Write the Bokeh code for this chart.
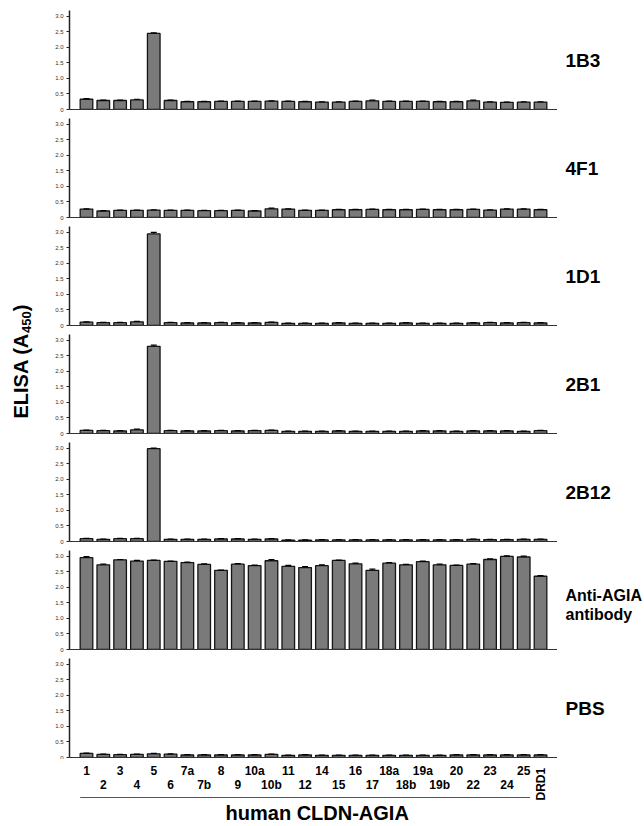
import math
from bokeh.plotting import figure
from bokeh.models import (ColumnDataSource, FixedTicker, Range1d, Whisker,
                          TeeHead, NumeralTickFormatter)
from bokeh.layouts import row, column
from bokeh.embed import file_html
from bokeh.resources import INLINE
from bokeh.core.properties import value

# ---------------- data ----------------
categories = ["1", "2", "3", "4", "5", "6", "7a", "7b", "8", "9", "10a", "10b",
              "11", "12", "14", "15", "16", "17", "18a", "18b", "19a", "19b",
              "20", "22", "23", "24", "25", "DRD1"]

panel_names = ["1B3", "4F1", "1D1", "2B1", "2B12", "Anti-AGIA\nantibody", "PBS"]

v_1B3 = [0.33, 0.29, 0.29, 0.31, 2.45, 0.29, 0.25, 0.25, 0.26, 0.26, 0.26, 0.27, 0.26, 0.25,
         0.24, 0.24, 0.26, 0.28, 0.26, 0.26, 0.26, 0.25, 0.25, 0.28, 0.24, 0.23, 0.24, 0.24]
e_1B3 = [0.02, 0.01, 0.01, 0.02, 0.02, 0.01, 0.01, 0.01, 0.01, 0.01, 0.01, 0.01, 0.01, 0.01,
         0.01, 0.01, 0.01, 0.02, 0.01, 0.01, 0.01, 0.01, 0.01, 0.02, 0.01, 0.01, 0.01, 0.01]

v_4F1 = [0.27, 0.21, 0.23, 0.23, 0.24, 0.23, 0.23, 0.22, 0.22, 0.23, 0.21, 0.28, 0.27, 0.23,
         0.23, 0.25, 0.25, 0.26, 0.25, 0.25, 0.26, 0.25, 0.25, 0.26, 0.24, 0.27, 0.27, 0.25]
e_4F1 = [0.01, 0.01, 0.01, 0.01, 0.01, 0.01, 0.01, 0.01, 0.01, 0.01, 0.01, 0.02, 0.01, 0.01,
         0.01, 0.01, 0.01, 0.01, 0.01, 0.01, 0.01, 0.01, 0.01, 0.01, 0.01, 0.01, 0.01, 0.01]

v_1D1 = [0.11, 0.09, 0.09, 0.12, 2.95, 0.09, 0.08, 0.08, 0.09, 0.08, 0.08, 0.10, 0.07, 0.07,
         0.07, 0.08, 0.07, 0.07, 0.07, 0.08, 0.07, 0.07, 0.07, 0.08, 0.09, 0.08, 0.09, 0.08]
e_1D1 = [0.01, 0.01, 0.01, 0.01, 0.05, 0.01, 0.01, 0.01, 0.01, 0.01, 0.01, 0.01, 0.01, 0.01,
         0.01, 0.01, 0.01, 0.01, 0.01, 0.01, 0.01, 0.01, 0.01, 0.01, 0.01, 0.01, 0.01, 0.01]

v_2B1 = [0.10, 0.09, 0.08, 0.12, 2.81, 0.09, 0.08, 0.08, 0.09, 0.08, 0.09, 0.10, 0.07, 0.07,
         0.07, 0.08, 0.07, 0.07, 0.07, 0.07, 0.08, 0.08, 0.07, 0.08, 0.08, 0.08, 0.07, 0.09]
e_2B1 = [0.01, 0.01, 0.01, 0.02, 0.04, 0.01, 0.01, 0.01, 0.01, 0.01, 0.01, 0.01, 0.01, 0.01,
         0.01, 0.01, 0.01, 0.01, 0.01, 0.01, 0.01, 0.01, 0.01, 0.01, 0.01, 0.01, 0.01, 0.01]

v_2B12 = [0.09, 0.07, 0.09, 0.09, 2.99, 0.07, 0.07, 0.07, 0.08, 0.08, 0.07, 0.08, 0.04, 0.04,
          0.05, 0.05, 0.05, 0.05, 0.05, 0.05, 0.05, 0.05, 0.05, 0.07, 0.06, 0.06, 0.07, 0.07]
e_2B12 = [0.01, 0.01, 0.01, 0.01, 0.02, 0.01, 0.01, 0.01, 0.01, 0.01, 0.01, 0.01, 0.01, 0.01,
          0.01, 0.01, 0.01, 0.01, 0.01, 0.01, 0.01, 0.01, 0.01, 0.01, 0.01, 0.01, 0.01, 0.01]

v_AGIA = [2.96, 2.73, 2.89, 2.85, 2.87, 2.84, 2.80, 2.74, 2.55, 2.75, 2.70, 2.86, 2.68, 2.64,
          2.70, 2.87, 2.76, 2.55, 2.78, 2.73, 2.83, 2.73, 2.71, 2.75, 2.90, 3.00, 2.98, 2.36]
e_AGIA = [0.03, 0.02, 0.01, 0.02, 0.01, 0.01, 0.02, 0.02, 0.01, 0.02, 0.02, 0.04, 0.03, 0.03,
          0.03, 0.01, 0.02, 0.04, 0.02, 0.01, 0.02, 0.02, 0.01, 0.02, 0.02, 0.02, 0.03, 0.02]

v_PBS = [0.13, 0.10, 0.09, 0.10, 0.12, 0.11, 0.08, 0.08, 0.08, 0.08, 0.08, 0.10, 0.07, 0.08,
         0.07, 0.07, 0.07, 0.07, 0.07, 0.07, 0.07, 0.07, 0.08, 0.08, 0.08, 0.08, 0.08, 0.08]
e_PBS = [0.01, 0.01, 0.01, 0.01, 0.01, 0.01, 0.01, 0.01, 0.01, 0.01, 0.01, 0.01, 0.01, 0.01,
         0.01, 0.01, 0.01, 0.01, 0.01, 0.01, 0.01, 0.01, 0.01, 0.01, 0.01, 0.01, 0.01, 0.01]

series_values = [v_1B3, v_4F1, v_1D1, v_2B1, v_2B12, v_AGIA, v_PBS]
series_errors = [e_1B3, e_4F1, e_1D1, e_2B1, e_2B12, e_AGIA, e_PBS]

y_ticks = [0, 0.5, 1.0, 1.5, 2.0, 2.5, 3.0]
y_tick_labels = ["0", "0.5", "1.0", "1.5", "2.0", "2.5", "3.0"]

y_title_main = "ELISA (A"
y_title_sub = "450"
y_title_end = ")"
x_title = "human CLDN-AGIA"

# ---------------- layout / style ----------------
FONT = "Liberation Sans"
LABEL_W = 38          # left column holding the y title
BL, FW = 31, 488      # panel left border + frame width
RIGHT_W = 87          # right column holding the panel names
FRAME_H = 99
Y_MAX = 3.19
FIRST_TOP = 10
TOP, BOT = 1, 8
LAST_BOT = 2
BOTTOM_H = 66

panel_heights = [FIRST_TOP + FRAME_H + BOT] + [TOP + FRAME_H + BOT] * 5 + [TOP + FRAME_H + LAST_BOT]
TOTAL_H = sum(panel_heights) + BOTTOM_H

BAR_W = 0.75
BAR_FILL = "#7a7a7a"
BAR_LINE = "#151515"

n = len(categories)
idx = list(range(n))
x_range = Range1d(-1.01, n - 1 + 1.01)

panels = []
zero_px = []  # pixel (from top of page) of each panel's zero line
y_cursor = 0
for k, (vals, errs) in enumerate(zip(series_values, series_errors)):
    first = k == 0
    last = k == len(series_values) - 1
    top_b = FIRST_TOP if first else TOP
    bot_b = LAST_BOT if last else BOT
    p = figure(width=BL + FW, height=panel_heights[k],
               x_range=x_range, y_range=Range1d(0, Y_MAX),
               output_backend="svg", toolbar_location=None, tools="",
               min_border_left=BL, min_border_right=0,
               min_border_top=top_b, min_border_bottom=bot_b)
    zero_px.append(y_cursor + top_b + FRAME_H)
    y_cursor += panel_heights[k]

    src = ColumnDataSource(dict(x=idx, top=vals,
                                upper=[v + e for v, e in zip(vals, errs)]))
    p.vbar(x="x", top="top", width=BAR_W, source=src,
           fill_color=BAR_FILL, line_color=BAR_LINE, line_width=1.3)
    p.add_layout(Whisker(source=src, base="x", upper="upper", lower="top",
                         dimension="height", line_color="black", line_width=1,
                         upper_head=TeeHead(size=6, line_color="black", line_width=1.2),
                         lower_head=None, level="overlay"))

    p.xgrid.visible = False
    p.ygrid.visible = False
    p.outline_line_color = None
    p.background_fill_color = "white"
    p.border_fill_color = "white"

    xa = p.xaxis[0]
    xa.ticker = FixedTicker(ticks=[])
    xa.major_tick_line_color = None
    xa.minor_tick_line_color = None
    xa.major_label_text_font_size = "0px"
    xa.major_label_standoff = 0
    xa.axis_line_color = "#333333"
    xa.axis_line_width = 1

    ya = p.yaxis[0]
    ya.ticker = FixedTicker(ticks=y_ticks)
    ya.formatter = NumeralTickFormatter(format="0.0")
    ya.major_label_overrides = dict(zip(y_ticks, y_tick_labels))
    ya.axis_line_color = "#222222"
    ya.axis_line_width = 1.5
    ya.major_tick_line_color = "#222222"
    ya.major_tick_line_width = 1
    ya.major_tick_out = 3
    ya.major_tick_in = 0
    ya.minor_tick_line_color = None
    ya.major_label_text_font = FONT
    ya.major_label_text_font_size = "6px"
    ya.major_label_text_color = "#333333"
    ya.major_label_standoff = 3
    panels.append(p)

# ---------------- bottom: category labels + title ----------------
b = figure(width=BL + FW, height=BOTTOM_H, x_range=x_range,
           y_range=Range1d(0, BOTTOM_H), x_axis_location=None, y_axis_location=None,
           output_backend="svg", toolbar_location=None, tools="",
           min_border_left=BL, min_border_right=0, min_border_top=0, min_border_bottom=0)
b.xgrid.visible = False
b.ygrid.visible = False
b.outline_line_color = None

top_row = [i for i in idx[:-1] if i % 2 == 0]
bot_row = [i for i in idx[:-1] if i % 2 == 1]
txt = dict(text_font=value(FONT), text_font_style="bold", text_color="black",
           text_baseline="middle")
b.text(x=top_row, y=[BOTTOM_H - 11] * len(top_row), text=[categories[i] for i in top_row],
       text_font_size="12px", text_align="center", **txt)
b.text(x=bot_row, y=[BOTTOM_H - 25] * len(bot_row), text=[categories[i] for i in bot_row],
       text_font_size="12px", text_align="center", **txt)
b.text(x=[idx[-1]], y=[BOTTOM_H - 41], text=[categories[-1]], angle=math.pi / 2,
       text_font_size="12px", text_align="left", **txt)
b.segment(x0=[idx[0] - BAR_W / 2], x1=[idx[-2] + BAR_W / 2],
          y0=[BOTTOM_H - 38], y1=[BOTTOM_H - 38], line_color="#555555", line_width=1)
b.text(x=[13.72], y=[BOTTOM_H - 53], text=[x_title],
       text_font_size="20px", text_align="center", **txt)

# ---------------- left: y title ----------------
lf = figure(width=LABEL_W, height=TOTAL_H, x_range=Range1d(0, LABEL_W),
            y_range=Range1d(0, TOTAL_H), x_axis_location=None, y_axis_location=None,
            output_backend="svg", toolbar_location=None, tools="",
            min_border_left=0, min_border_right=0, min_border_top=0, min_border_bottom=0)
lf.xgrid.visible = False
lf.ygrid.visible = False
lf.outline_line_color = None
y0 = TOTAL_H - 418
w_main = 85.6
w_sub = 21.7
lf.text(x=[20.5], y=[y0], text=[y_title_main], angle=math.pi / 2,
        text_font_size="20px", text_align="left", **txt)
lf.text(x=[25.5], y=[y0 + w_main], text=[y_title_sub], angle=math.pi / 2,
        text_font_size="13px", text_align="left", **txt)
lf.text(x=[20.5], y=[y0 + w_main + w_sub], text=[y_title_end], angle=math.pi / 2,
        text_font_size="20px", text_align="left", **txt)

# ---------------- right: panel names ----------------
rf = figure(width=RIGHT_W, height=TOTAL_H, x_range=Range1d(0, RIGHT_W),
            y_range=Range1d(0, TOTAL_H), x_axis_location=None, y_axis_location=None,
            output_backend="svg", toolbar_location=None, tools="",
            min_border_left=0, min_border_right=0, min_border_top=0, min_border_bottom=0)
rf.xgrid.visible = False
rf.ygrid.visible = False
rf.outline_line_color = None
for name, z in zip(panel_names, zero_px):
    lines = name.split("\n")
    if len(lines) == 1:
        rf.text(x=[8], y=[TOTAL_H - (z - 1.58 * FRAME_H / Y_MAX)], text=[name],
                text_font_size="19px", text_align="left", **txt)
    else:
        for j, ln in enumerate(lines):
            rf.text(x=[8], y=[TOTAL_H - (z - 54 + 19 * j)], text=[ln],
                    text_font_size="16px", text_align="left", **txt)

layout = row(lf, column(*panels, b, spacing=0), rf, spacing=0)

open("out.html", "w").write(file_html(layout, INLINE))
